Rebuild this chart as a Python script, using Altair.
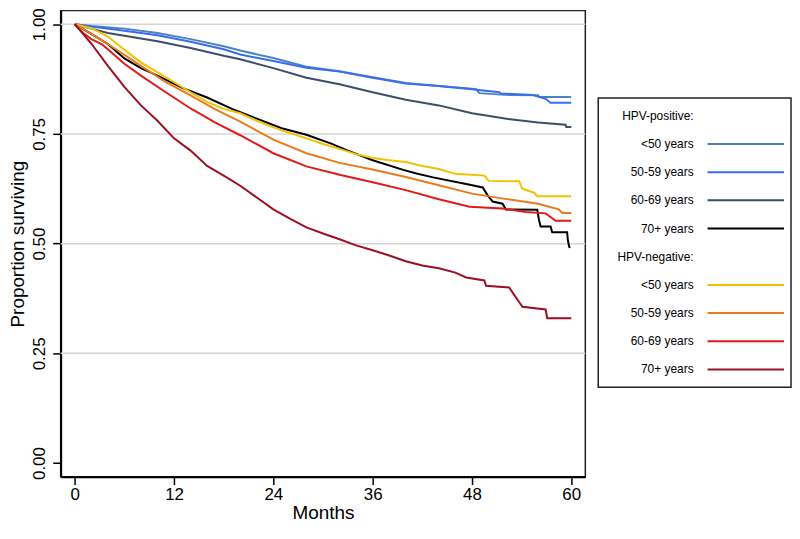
import altair as alt
import pandas as pd

# ---------------- data ----------------
series_keys = [
    "HPV+ <50", "HPV+ 50-59", "HPV+ 60-69", "HPV+ 70+",
    "HPV- <50", "HPV- 50-59", "HPV- 60-69", "HPV- 70+",
]
series_colors = [
    "#4a84c0", "#3a6cf2", "#3c4e68", "#000000",
    "#f2c200", "#ec7a1c", "#e21a1a", "#9c1024",
]

m_pos_lt50 = [0, 2, 6, 10, 14, 18, 20, 24, 28, 32, 36, 40, 44, 47.3, 48.5, 48.9, 52, 56, 56.1, 60]
s_pos_lt50 = [1.0, 0.996, 0.99, 0.980, 0.966, 0.950, 0.940, 0.923, 0.903, 0.893, 0.879, 0.866, 0.859, 0.854, 0.852, 0.843, 0.839, 0.838, 0.834, 0.834]

m_pos_50_59 = [0, 2, 6, 10, 14, 18, 20, 24, 28, 32, 36, 40, 44, 48, 51.3, 51.5, 55.3, 56.9, 57.5, 60]
s_pos_50_59 = [1.0, 0.995, 0.985, 0.975, 0.960, 0.943, 0.931, 0.916, 0.901, 0.892, 0.878, 0.865, 0.859, 0.852, 0.845, 0.842, 0.839, 0.830, 0.821, 0.821]

m_pos_60_69 = [0, 2, 4, 10, 14, 18, 20, 24, 28, 32, 36, 40, 44, 48, 52, 56, 59.3, 59.4, 60]
s_pos_60_69 = [1.0, 0.99, 0.980, 0.961, 0.946, 0.928, 0.920, 0.900, 0.878, 0.863, 0.845, 0.828, 0.815, 0.797, 0.785, 0.776, 0.771, 0.766, 0.766]

m_pos_70p = [0, 2, 4, 6, 8, 10, 13, 16, 19, 22, 25, 28, 31, 33, 36, 39.7, 41.3, 43.3, 47.3, 49.3, 49.9, 50.5, 51.7, 52.1, 55.9, 56.1, 56.3, 57.5, 57.7, 59.5, 59.6, 59.8]
s_pos_70p = [1.0, 0.978, 0.955, 0.922, 0.900, 0.883, 0.855, 0.833, 0.807, 0.785, 0.763, 0.748, 0.728, 0.712, 0.690, 0.668, 0.660, 0.651, 0.636, 0.628, 0.610, 0.596, 0.591, 0.578, 0.577, 0.554, 0.539, 0.539, 0.526, 0.526, 0.506, 0.490]

m_neg_lt50 = [0, 2, 4, 6, 8, 11.3, 14, 16, 18, 20, 22, 24, 26, 28, 30, 32, 34, 36, 38, 40, 42, 44, 46, 49.5, 50, 53.7, 54.1, 55.5, 55.9, 60]
s_neg_lt50 = [1.0, 0.991, 0.972, 0.942, 0.913, 0.876, 0.845, 0.823, 0.807, 0.797, 0.780, 0.765, 0.752, 0.740, 0.727, 0.716, 0.704, 0.695, 0.690, 0.686, 0.677, 0.670, 0.659, 0.655, 0.643, 0.642, 0.625, 0.616, 0.608, 0.608]

m_neg_50_59 = [0, 2, 4, 6, 8, 11, 14, 17, 20, 24, 28, 32, 36, 40, 44, 48, 52, 56, 57.3, 58.5, 58.9, 60]
s_neg_50_59 = [1.0, 0.978, 0.955, 0.930, 0.905, 0.868, 0.838, 0.806, 0.778, 0.737, 0.706, 0.684, 0.669, 0.652, 0.633, 0.614, 0.602, 0.591, 0.584, 0.578, 0.570, 0.570]

m_neg_60_69 = [0, 1, 2, 3.3, 4, 6, 8, 11, 14, 17, 20, 24, 28, 32, 36, 40, 44, 47.7, 51.7, 54.5, 56.9, 57.7, 58.1, 60]
s_neg_60_69 = [1.0, 0.980, 0.966, 0.954, 0.943, 0.910, 0.883, 0.845, 0.808, 0.776, 0.747, 0.706, 0.676, 0.657, 0.640, 0.622, 0.601, 0.584, 0.580, 0.572, 0.569, 0.558, 0.552, 0.552]

m_neg_70p = [0, 1, 2, 4, 6, 8, 10, 12, 14, 16, 18, 20, 22, 24, 26, 28, 30, 32, 34, 36, 38, 40, 42, 44, 46, 47.3, 49.5, 49.7, 52.5, 53, 53.7, 54.1, 56.9, 57.1, 60]
s_neg_70p = [1.0, 0.978, 0.956, 0.905, 0.857, 0.815, 0.780, 0.740, 0.712, 0.677, 0.655, 0.632, 0.605, 0.578, 0.557, 0.537, 0.523, 0.510, 0.496, 0.485, 0.473, 0.460, 0.450, 0.444, 0.434, 0.423, 0.416, 0.404, 0.400, 0.386, 0.367, 0.356, 0.350, 0.330, 0.330]

all_months = [m_pos_lt50, m_pos_50_59, m_pos_60_69, m_pos_70p,
              m_neg_lt50, m_neg_50_59, m_neg_60_69, m_neg_70p]
all_surv = [s_pos_lt50, s_pos_50_59, s_pos_60_69, s_pos_70p,
            s_neg_lt50, s_neg_50_59, s_neg_60_69, s_neg_70p]

x_ticks = [0, 12, 24, 36, 48, 60]
y_ticks = [0.0, 0.25, 0.50, 0.75, 1.00]
grid_values = [0.25, 0.50, 0.75, 1.00]

legend_labels = ["HPV-positive:", "<50 years", "50-59 years", "60-69 years", "70+ years",
                 "HPV-negative:", "<50 years", "50-59 years", "60-69 years", "70+ years"]
legend_series = [None] + series_keys[:4] + [None] + series_keys[4:]

# ---------------- tables ----------------
rows = []
for key, ms, ss in zip(series_keys, all_months, all_surv):
    for i, (m, s) in enumerate(zip(ms, ss)):
        rows.append({"series": key, "month": m, "surv": s, "idx": i})
df = pd.DataFrame(rows)

grid_df = pd.DataFrame({"surv": grid_values})
leg_df = pd.DataFrame({
    "row": list(range(len(legend_labels))),
    "label": legend_labels,
    "series": [s if s is not None else "" for s in legend_series],
})
leg_lines_df = leg_df[leg_df["series"] != ""]

FONT = "Liberation Sans"

color_scale = alt.Scale(domain=series_keys, range=series_colors)
x_scale = alt.Scale(domain=[-1.7, 61.7], nice=False, zero=False)
y_scale = alt.Scale(domain=[-0.031, 1.031], nice=False, zero=False)

x_axis = alt.Axis(values=x_ticks, title="Months", grid=False, tickSize=8,
                  labelFontSize=17, titleFontSize=19, labelPadding=2, titlePadding=1,
                  domainWidth=2, tickWidth=1.5)
y_axis = alt.Axis(values=y_ticks, format=".2f", title="Proportion surviving", grid=False,
                  labelAngle=270, tickSize=8, labelFontSize=17, titleFontSize=19,
                  labelPadding=4, titlePadding=3, domainWidth=2, tickWidth=1.5)

grid = alt.Chart(grid_df).mark_rule(color="#d6d6d6", strokeWidth=1.5).encode(
    y=alt.Y("surv:Q", scale=y_scale, axis=y_axis)
)

lines = alt.Chart(df).mark_line(strokeWidth=2, clip=True).encode(
    x=alt.X("month:Q", scale=x_scale, axis=x_axis),
    y=alt.Y("surv:Q", scale=y_scale, axis=y_axis),
    color=alt.Color("series:N", scale=color_scale, legend=None),
    order=alt.Order("idx:Q"),
)

main = alt.layer(grid, lines).properties(width=528, height=469)

# ---------------- legend panel ----------------
leg_y = alt.Y("row:O", scale=alt.Scale(type="point", padding=0.63), axis=None)
leg_text = alt.Chart(leg_df).mark_text(
    align="right", baseline="middle", font=FONT, fontSize=12, color="black"
).encode(x=alt.value(96), y=leg_y, text="label:N")
leg_lines = alt.Chart(leg_lines_df).mark_rule(strokeWidth=2).encode(
    x=alt.value(110), x2=alt.value(187), y=leg_y,
    color=alt.Color("series:N", scale=color_scale, legend=None),
)
legend_box = alt.layer(leg_text, leg_lines).properties(width=194, height=291)

spacer = alt.Chart(pd.DataFrame({"a": [0]})).mark_point(opacity=0).encode(
    x=alt.value(0), y=alt.value(0)
).properties(width=194, height=86, view=alt.ViewBackground(stroke="transparent"))

legend_col = alt.vconcat(spacer, legend_box, spacing=0)

chart = alt.hconcat(main, legend_col, spacing=7).properties(
    padding={"left": 0, "top": -3, "right": 0, "bottom": -3}
).configure_axis(
    labelFont=FONT, titleFont=FONT, labelColor="black", titleColor="black",
    tickColor="black", domainColor="black", titleFontWeight="normal",
).configure_view(
    stroke="#222222", strokeWidth=1.5
)

chart.save("out.html", embed_options={"renderer": "svg", "actions": False})
